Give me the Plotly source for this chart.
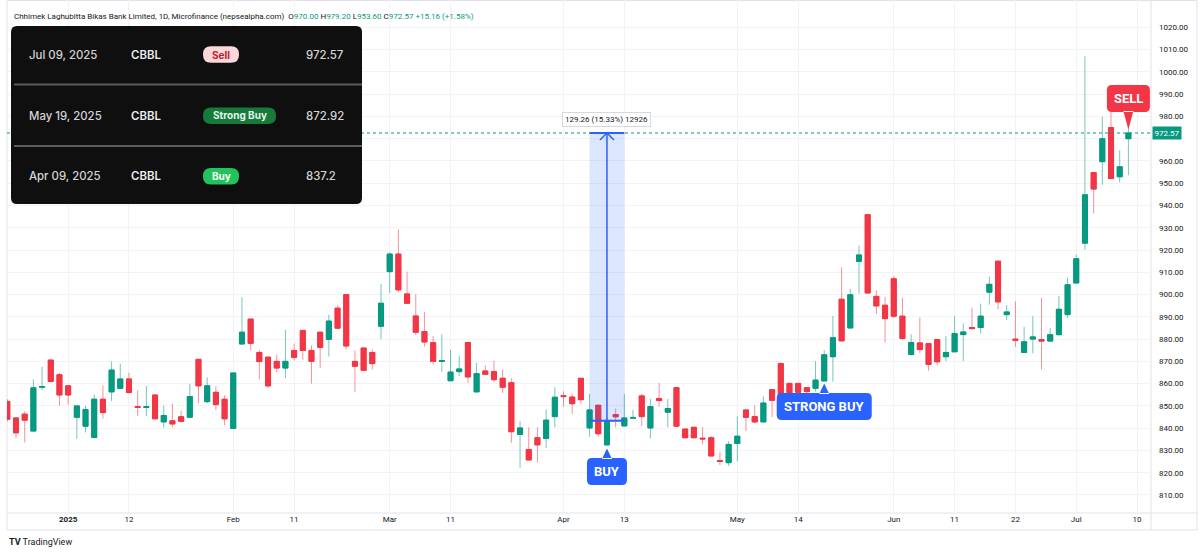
import plotly.graph_objects as go

# ---------------- data ----------------
dates = [
    "2024-12-22", "2024-12-23", "2024-12-24", "2024-12-26", "2024-12-29", "2024-12-30", "2024-12-31",
    "2025-01-01", "2025-01-02", "2025-01-05", "2025-01-06", "2025-01-07", "2025-01-08", "2025-01-09",
    "2025-01-12", "2025-01-13", "2025-01-15", "2025-01-16", "2025-01-19", "2025-01-20", "2025-01-21",
    "2025-01-22", "2025-01-23", "2025-01-26", "2025-01-27", "2025-01-28",
    "2025-02-02", "2025-02-03", "2025-02-04", "2025-02-05", "2025-02-06", "2025-02-09", "2025-02-10",
    "2025-02-11", "2025-02-12", "2025-02-13", "2025-02-16", "2025-02-17", "2025-02-18", "2025-02-20",
    "2025-02-23", "2025-02-24", "2025-02-25", "2025-02-27",
    "2025-03-02", "2025-03-03", "2025-03-04", "2025-03-05", "2025-03-06", "2025-03-09", "2025-03-10",
    "2025-03-11", "2025-03-12", "2025-03-16", "2025-03-17", "2025-03-18", "2025-03-19", "2025-03-20",
    "2025-03-23", "2025-03-24", "2025-03-25", "2025-03-26", "2025-03-27", "2025-03-30",
    "2025-04-01", "2025-04-02", "2025-04-03", "2025-04-07", "2025-04-08", "2025-04-09", "2025-04-10",
    "2025-04-13", "2025-04-15", "2025-04-16", "2025-04-17", "2025-04-20", "2025-04-21", "2025-04-22",
    "2025-04-23", "2025-04-24", "2025-04-27", "2025-04-28", "2025-04-29", "2025-04-30",
    "2025-05-04", "2025-05-05", "2025-05-06", "2025-05-07", "2025-05-08", "2025-05-11", "2025-05-13",
    "2025-05-14", "2025-05-15", "2025-05-18", "2025-05-19", "2025-05-20", "2025-05-21", "2025-05-22",
    "2025-05-25", "2025-05-26", "2025-05-27", "2025-05-29",
    "2025-06-01", "2025-06-02", "2025-06-03", "2025-06-04", "2025-06-05", "2025-06-09", "2025-06-10",
    "2025-06-11", "2025-06-12", "2025-06-15", "2025-06-16", "2025-06-17", "2025-06-18", "2025-06-19",
    "2025-06-22", "2025-06-23", "2025-06-24", "2025-06-25", "2025-06-26", "2025-06-29", "2025-06-30",
    "2025-07-01", "2025-07-02", "2025-07-03", "2025-07-06", "2025-07-07", "2025-07-08", "2025-07-09",
]

opens = [
    852.0, 844.6, 846.3, 838.7, 858.4, 870.6, 864.0, 859.0, 844.9, 840.9,
    835.8, 853.0, 856.3, 857.9, 862.1, 849.7, 849.3, 854.9, 842.8, 843.3,
    845.1, 844.9, 870.9, 851.9, 856.1, 853.0, 839.9, 877.8, 889.0, 874.0,
    871.9, 870.0, 867.0, 874.9, 883.9, 874.9, 883.1, 879.9, 893.9, 900.0,
    870.0, 876.0, 874.0, 885.8, 910.3, 918.2, 900.3, 890.4, 883.4, 878.4,
    870.0, 861.3, 865.4, 878.5, 856.3, 865.7, 865.4, 862.4, 860.4, 837.2,
    830.4, 835.7, 835.4, 845.2, 854.6, 854.0, 862.4, 840.1, 850.3, 832.5,
    846.1, 841.0, 844.5, 854.5, 840.1, 853.3, 847.2, 858.2, 839.6, 840.4,
    835.5, 835.7, 825.4, 824.5, 833.1, 848.2, 845.2, 842.8, 857.3, 869.0,
    860.1, 860.1, 858.2, 857.9, 861.2, 872.1, 897.9, 885.0, 914.9, 935.9,
    899.2, 895.2, 907.1, 890.3, 873.1, 878.3, 878.0, 879.8, 872.1, 874.3,
    882.0, 885.2, 885.2, 901.1, 915.0, 891.0, 880.0, 874.0, 880.0, 879.8,
    879.1, 882.0, 891.0, 905.2, 923.1, 954.8, 959.7, 975.0, 952.9, 970.00,
]
highs = [
    853.0, 845.0, 847.6, 861.9, 867.6, 870.8, 864.9, 859.5, 850.0, 850.1,
    855.1, 859.3, 870.0, 869.0, 864.9, 857.0, 859.0, 855.0, 850.1, 851.0,
    847.9, 859.9, 870.9, 862.8, 858.8, 854.8, 864.8, 898.8, 889.0, 875.1,
    871.9, 873.1, 884.2, 877.9, 883.9, 877.2, 883.1, 891.0, 895.1, 900.0,
    874.9, 876.0, 875.4, 904.8, 919.0, 929.3, 910.3, 900.3, 892.1, 881.5,
    882.2, 875.2, 872.5, 878.5, 869.3, 868.2, 870.3, 866.3, 862.4, 843.1,
    840.4, 840.4, 848.4, 858.4, 856.6, 855.4, 862.4, 855.4, 850.3, 844.5,
    848.8, 855.4, 848.2, 855.4, 853.1, 860.3, 853.1, 858.2, 839.6, 840.4,
    840.4, 836.4, 829.3, 834.2, 845.4, 848.2, 850.3, 854.3, 857.3, 869.5,
    860.5, 860.1, 858.2, 870.1, 875.0, 890.4, 912.3, 902.6, 922.0, 935.9,
    901.9, 898.9, 908.3, 898.6, 882.1, 889.7, 878.0, 879.8, 881.3, 890.3,
    887.0, 894.1, 895.9, 908.0, 915.0, 895.2, 897.0, 885.5, 890.3, 898.6,
    885.0, 899.4, 907.6, 918.0, 1007.0, 954.8, 979.9, 982.4, 964.8, 979.20,
]
lows = [
    843.0, 835.4, 833.6, 838.7, 857.0, 860.5, 850.1, 850.6, 835.2, 838.1,
    835.8, 844.3, 852.2, 857.9, 855.5, 845.4, 845.4, 844.2, 840.3, 840.3,
    842.5, 844.3, 851.2, 851.2, 848.1, 841.3, 839.9, 877.8, 874.9, 861.9,
    858.1, 865.2, 862.5, 870.4, 870.7, 860.0, 867.0, 872.2, 884.9, 875.4,
    856.3, 866.0, 866.4, 879.9, 900.6, 901.3, 895.7, 881.9, 876.6, 868.5,
    865.2, 861.3, 863.3, 860.3, 856.3, 864.2, 860.7, 855.8, 833.4, 822.2,
    825.7, 824.5, 831.2, 840.4, 849.6, 846.4, 850.9, 836.1, 836.1, 832.0,
    840.4, 841.0, 844.2, 841.0, 835.4, 849.6, 840.4, 840.4, 835.7, 835.7,
    832.7, 827.5, 823.4, 823.0, 825.2, 838.7, 842.1, 842.8, 845.0, 853.0,
    854.0, 854.5, 855.0, 856.4, 861.2, 860.9, 879.0, 885.0, 900.4, 900.7,
    891.2, 878.5, 889.5, 879.5, 872.5, 873.6, 865.8, 868.3, 870.1, 874.3,
    870.1, 884.4, 882.5, 895.5, 893.4, 888.5, 876.5, 873.6, 873.6, 866.4,
    879.1, 881.5, 889.5, 905.2, 920.2, 936.5, 949.3, 952.1, 950.4, 953.60,
]
closes = [
    844.0, 837.9, 843.6, 858.1, 858.7, 861.0, 854.9, 854.9, 850.0, 848.4,
    853.0, 847.0, 866.1, 862.1, 856.0, 849.3, 849.7, 844.2, 845.7, 841.9,
    843.1, 854.2, 859.0, 859.0, 850.6, 844.2, 864.8, 883.1, 878.1, 869.9,
    859.0, 867.0, 870.0, 871.8, 874.9, 870.0, 876.3, 888.1, 884.9, 876.9,
    867.8, 866.0, 869.0, 896.1, 918.2, 902.1, 896.1, 883.1, 878.7, 870.0,
    870.3, 865.2, 866.6, 863.0, 864.5, 864.2, 861.8, 858.4, 838.4, 840.1,
    825.7, 832.5, 843.6, 853.9, 854.2, 851.0, 852.8, 848.2, 837.5, 843.3,
    845.1, 844.6, 844.8, 845.2, 849.7, 852.4, 848.8, 840.9, 835.7, 835.7,
    835.2, 827.5, 825.1, 832.7, 836.4, 844.9, 842.8, 851.3, 852.5, 855.0,
    855.7, 856.1, 856.4, 861.6, 872.92, 880.6, 879.2, 899.9, 917.8, 900.7,
    894.9, 889.2, 890.3, 880.3, 878.5, 875.3, 868.6, 869.8, 874.0, 882.5,
    883.2, 884.7, 890.3, 904.6, 896.7, 892.2, 879.5, 878.8, 881.0, 879.1,
    882.0, 893.4, 904.4, 916.1, 944.8, 947.4, 970.0, 952.1, 957.41, 972.57,
]

future_dates = ["2025-07-10"]
tick_dates = ["2025-01-01", "2025-01-12", "2025-02-02", "2025-02-11", "2025-03-02", "2025-03-11",
              "2025-04-01", "2025-04-13", "2025-05-04", "2025-05-14", "2025-06-01", "2025-06-11",
              "2025-06-22", "2025-07-01", "2025-07-10"]
tick_labels = ["<b>2025</b>", "12", "Feb", "11", "Mar", "11", "Apr", "13", "May", "14",
               "Jun", "11", "22", "Jul", "10"]
price_ticks = [810, 820, 830, 840, 850, 860, 870, 880, 890, 900, 910, 920,
               930, 940, 950, 960, 970, 980, 990, 1000, 1010, 1020]

symbol = "CBBL"
title_text = "Chhimek Laghubitta Bikas Bank Limited, 1D, Microfinance (nepsealpha.com)"

table_dates = ["Jul 09, 2025", "May 19, 2025", "Apr 09, 2025"]
table_signals = ["Sell", "Strong Buy", "Buy"]
table_prices = ["972.57", "872.92", "837.2"]

signal_dates = ["2025-04-09", "2025-05-19", "2025-07-09"]
signal_labels = ["BUY", "STRONG BUY", "SELL"]

measure_dates = ["2025-04-07", "2025-04-13"]
measure_mid_date = "2025-04-09"
measure_base = 843.31

assert len(dates) == len(opens) == len(highs) == len(lows) == len(closes)

# ---------------- geometry helpers ----------------
W, H = 1200, 553
ML, MR, MT, MB = 7, 49, 0, 40
PW, PH = W - ML - MR, H - MT - MB


def fx(px):
    return (px - ML) / PW


def fy(py):
    return (H - MB - py) / PH


all_dates = dates + future_dates
xpos = list(range(len(dates)))
pos = {d: i for i, d in enumerate(all_dates)}
tick_pos = [pos[d] for d in tick_dates]

UP, DOWN = "#089981", "#f23645"
UP_W, DOWN_W = "rgba(8,153,129,0.55)", "rgba(242,54,69,0.55)"
BLUE = "#2962ff"
GRID = "#f2f3f5"
TXT = "#131722"

fig = go.Figure()
# wicks (lighter)
fig.add_trace(go.Candlestick(
    x=xpos, open=opens, high=highs, low=lows, close=closes,
    increasing=dict(line=dict(color=UP_W, width=1), fillcolor=UP),
    decreasing=dict(line=dict(color=DOWN_W, width=1), fillcolor=DOWN),
    whiskerwidth=0, hoverinfo="skip", showlegend=False))
# bodies
body_hi = [max(o, c) for o, c in zip(opens, closes)]
body_lo = [min(o, c) for o, c in zip(opens, closes)]
fig.add_trace(go.Candlestick(
    x=xpos, open=opens, high=body_hi, low=body_lo, close=closes,
    increasing=dict(line=dict(color=UP, width=1), fillcolor=UP),
    decreasing=dict(line=dict(color=DOWN, width=1), fillcolor=DOWN),
    whiskerwidth=0, showlegend=False))

shapes = []
annotations = []

last_close = closes[-1]
# current price dotted line
shapes.append(dict(type="line", xref="paper", yref="y", x0=0, x1=1, y0=last_close, y1=last_close,
                   line=dict(color=UP, width=1, dash="dot"), layer="above"))

# measurement tool
mx0, mx1, mxm = pos[measure_dates[0]], pos[measure_dates[1]], pos[measure_mid_date]
shapes.append(dict(type="rect", xref="x", yref="y", x0=mx0, x1=mx1, y0=measure_base, y1=last_close,
                   fillcolor="rgba(41,98,255,0.16)", line=dict(width=0), layer="above"))
for yv in (measure_base, last_close):
    shapes.append(dict(type="line", xref="x", yref="y", x0=mx0, x1=mx1, y0=yv, y1=yv,
                       line=dict(color=BLUE, width=2), layer="above"))
shapes.append(dict(type="line", xref="x", yref="y", x0=mxm, x1=mxm, y0=measure_base, y1=last_close,
                   line=dict(color=BLUE, width=1.5), layer="above"))
shapes.append(dict(type="path", xref="x", yref="y", xsizemode="pixel", ysizemode="pixel",
                   xanchor=mxm, yanchor=last_close, path="M -7,-7 L 0,0 L 7,-7",
                   line=dict(color=BLUE, width=1.5), layer="above"))
diff = last_close - measure_base
annotations.append(dict(xref="x", yref="y", x=mxm, y=last_close, yshift=13,
                        text=f"{diff:.2f} ({diff / measure_base * 100:.2f}%) {round(diff * 100)}",
                        showarrow=False, font=dict(size=8, color=TXT, family="Roboto"),
                        bgcolor="white", bordercolor="#d6d8de", borderwidth=1, borderpad=2))


def rrect(x0, y0, x1, y1, r):
    # pixel offsets, y up positive, (x0,y0) bottom-left
    return (f"M {x0 + r},{y0} L {x1 - r},{y0} Q {x1},{y0} {x1},{y0 + r} "
            f"L {x1},{y1 - r} Q {x1},{y1} {x1 - r},{y1} L {x0 + r},{y1} Q {x0},{y1} {x0},{y1 - r} "
            f"L {x0},{y0 + r} Q {x0},{y0} {x0 + r},{y0} Z")


# signal labels
for d, lab in zip(signal_dates, signal_labels):
    i = pos[d]
    if lab == "SELL":
        yv, col = closes[i], DOWN
        hw, tip, base, top, r = 21.5, 3.5, 21, 48, 5
        path = (rrect(-hw, base, hw, top, r) + f" M -5,{base + 1} L 0,{tip} L 5,{base + 1} Z")
        ts = (base + top) / 2
    else:
        yv, col = lows[i], BLUE
        hw = 20 if lab == "BUY" else 47.5
        tip, base, top, r = -2.5, -12, -39, 5
        path = (rrect(-hw, top, hw, base, r) + f" M -5,{base - 1} L 0,{tip} L 5,{base - 1} Z")
        ts = (base + top) / 2
    shapes.append(dict(type="path", xref="x", yref="y", xsizemode="pixel", ysizemode="pixel",
                       xanchor=i, yanchor=yv, path=path, fillcolor=col, line=dict(width=0),
                       layer="above"))
    annotations.append(dict(xref="x", yref="y", x=i, y=yv, yshift=ts, text=f"<b>{lab}</b>",
                            showarrow=False, font=dict(size=13, color="white", family="Roboto")))

# last price label on axis
annotations.append(dict(xref="paper", yref="y", x=fx(1152), y=last_close, xanchor="left",
                        text=f"{last_close:.2f}", showarrow=False, bgcolor=UP,
                        font=dict(size=8, color="white", family="Roboto"), borderpad=1.5))

# chrome borders
BORDER = "#e0e3eb"
shapes.append(dict(type="rect", xref="paper", yref="paper", x0=fx(7), x1=fx(1197), y0=fy(0.5),
                   y1=fy(530), line=dict(color=BORDER, width=1), layer="below"))
shapes.append(dict(type="line", xref="paper", yref="paper", x0=fx(7), x1=fx(1197), y0=fy(513),
                   y1=fy(513), line=dict(color=BORDER, width=1), layer="below"))
shapes.append(dict(type="line", xref="paper", yref="paper", x0=fx(1151), x1=fx(1151), y0=fy(0),
                   y1=fy(530), line=dict(color=BORDER, width=1), layer="below"))

# header legend
o, h, l, c = opens[-1], highs[-1], lows[-1], closes[-1]
chg = c - closes[-2]
g = f"<span style='color:{UP}'>"
header = (f"{title_text}  O{g}{o:.2f}</span> H{g}{h:.2f}</span> L{g}{l:.2f}</span> "
          f"C{g}{c:.2f}</span> {g}{chg:+.2f} ({chg / closes[-2] * 100:+.2f}%)</span>")
annotations.append(dict(xref="paper", yref="paper", x=fx(11.5), y=fy(16.5), xanchor="left",
                        yanchor="middle", text=header, showarrow=False,
                        font=dict(size=8, color=TXT, family="Roboto")))

# signal table overlay
TL = dict(xref="paper", yref="paper", xsizemode="pixel", ysizemode="pixel", xanchor=fx(0), yanchor=fy(0))
shapes.append(dict(type="path", **TL, path=rrect(11, -204, 362, -26, 6), fillcolor="#0f0f0f",
                   line=dict(width=0), layer="above"))
for ysep in (84.5, 146):
    shapes.append(dict(type="line", **TL, x0=14, x1=362, y0=-ysep, y1=-ysep,
                       line=dict(color="#5c5c5c", width=2), layer="above"))
row_y = [54.5, 115.8, 176.3]
badge_style = {"Sell": ("#fcd7da", "#b3202e", 36),
               "Strong Buy": ("#157a3a", "#e6f4ea", 73),
               "Buy": ("#22c25c", "#ffffff", 36)}
FT = 11.4
for ry, dt, sg, pr in zip(row_y, table_dates, table_signals, table_prices):
    annotations.append(dict(xref="paper", yref="paper", x=fx(26.5), y=fy(ry), xanchor="left",
                            yanchor="middle", text=dt, showarrow=False,
                            font=dict(size=FT, color="#d4d4d4", family="Inter", weight=500)))
    annotations.append(dict(xref="paper", yref="paper", x=fx(129), y=fy(ry), xanchor="left",
                            yanchor="middle", text=symbol, showarrow=False,
                            font=dict(size=FT, color="#ececec", family="Inter", weight=600)))
    annotations.append(dict(xref="paper", yref="paper", x=fx(304), y=fy(ry), xanchor="left",
                            yanchor="middle", text=pr, showarrow=False,
                            font=dict(size=FT, color="#d4d4d4", family="Inter", weight=500)))
    bg, fg, bw = badge_style[sg]
    shapes.append(dict(type="path", **TL, path=rrect(203, -(ry + 8.2), 203 + bw, -(ry - 8.2), 8),
                       fillcolor=bg, line=dict(width=0), layer="above"))
    annotations.append(dict(xref="paper", yref="paper", x=fx(203 + bw / 2), y=fy(ry), xanchor="center",
                            yanchor="middle", text=f"<b>{sg}</b>", showarrow=False,
                            font=dict(size=10, color=fg, family="Inter")))

# TradingView mark
annotations.append(dict(xref="paper", yref="paper", x=fx(7), y=fy(541.5), xanchor="left", yanchor="middle",
                        text="<b>TV</b> TradingView", showarrow=False,
                        font=dict(size=9, color=TXT, family="Roboto")))

# price tick labels (the one hidden under the last-price tag is left blank)
price_text = ["" if abs(v - last_close) < 4 else f"{v:.2f}" for v in price_ticks]

fig.update_layout(
    width=W, height=H,
    margin=dict(l=ML, r=MR, t=MT, b=MB, pad=0),
    paper_bgcolor="white", plot_bgcolor="white",
    showlegend=False,
    boxgap=0.42, boxgroupgap=0,
    xaxis=dict(range=[-0.035, 131.6], tickmode="array", tickvals=tick_pos, ticktext=tick_labels,
               showgrid=True, gridcolor=GRID, gridwidth=1, zeroline=False, showline=False,
               ticks="", tickfont=dict(size=8, color=TXT, family="Roboto"),
               rangeslider=dict(visible=False), fixedrange=True),
    yaxis=dict(side="right", range=[801.9, 1032.3], tickmode="array", tickvals=price_ticks,
               ticktext=price_text,
               showgrid=True, gridcolor=GRID, gridwidth=1, zeroline=False, showline=False,
               ticks="", ticklabelstandoff=7, tickfont=dict(size=8, color=TXT, family="Roboto"),
               fixedrange=True),
    shapes=shapes,
    annotations=annotations,
)

fig.write_html("out.html")
